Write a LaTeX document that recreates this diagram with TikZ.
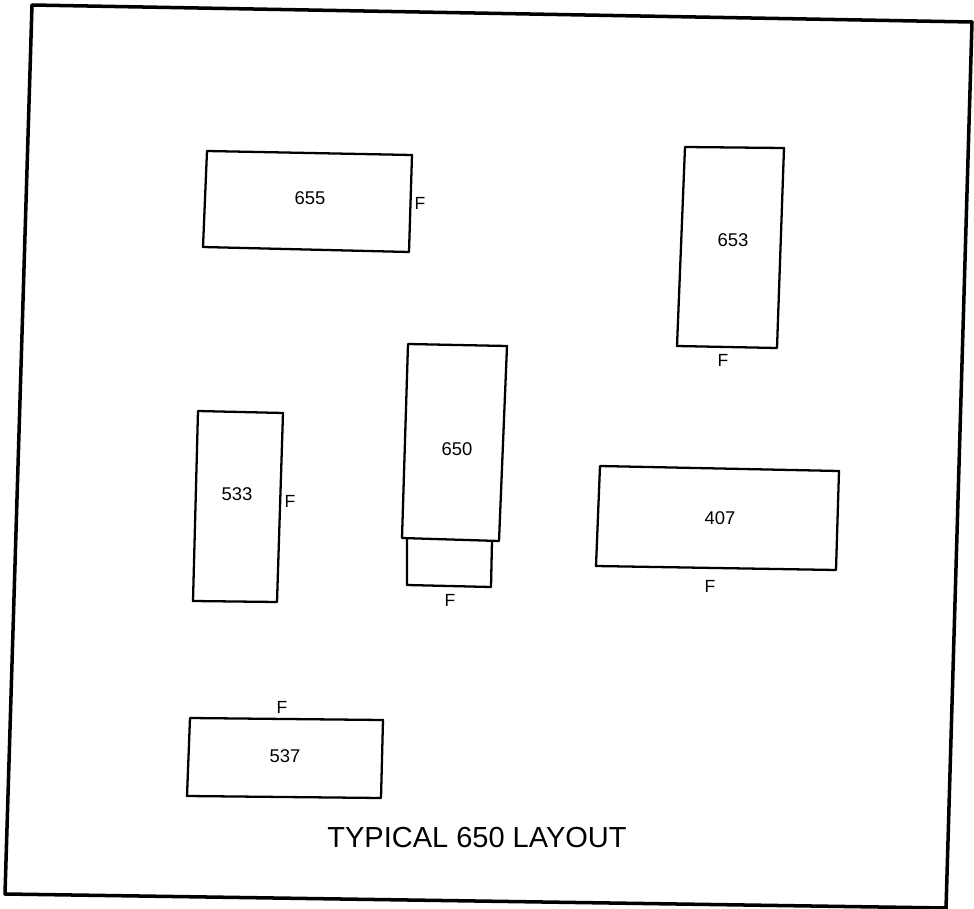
\documentclass[tikz,border=0pt]{standalone}
\usepackage{fontspec}
\setmainfont{Liberation Sans}

\tikzstyle{rahmen}=[line width=2pt, line join=round]
\tikzstyle{geraet}=[line width=1.3pt, line join=round]
\tikzstyle{nummer}=[inner sep=0pt, font=\fontsize{10.5}{12}\selectfont]
\tikzstyle{front}=[inner sep=0pt, font=\fontsize{10}{12}\selectfont]

\begin{document}
\begin{tikzpicture}[x=0.02cm, y=-0.02cm]

	\useasboundingbox (0,0) rectangle (974,909);

	% Rahmen
	\draw[rahmen] (946,909) -- (972,22) -- (32,5) -- (5,894) -- (946,908);

	% Obere Reihe
	\draw[geraet] (207,151) -- (412,155) -- (409,252) -- (203,247) -- cycle;
	\node(m655) at (310,198) [nummer] {655};
	\node(f655) at (420,203) [front] {F};

	\draw[geraet] (685,147) -- (784,148) -- (777,348) -- (677,346) -- cycle;
	\node(m653) at (733,240) [nummer] {653};
	\node(f653) at (723,360) [front] {F};

	% Mitte
	\draw[geraet] (408,344) -- (507,346) -- (499,541) -- (402,538) -- cycle;
	\draw[geraet] (407,539) -- (407,585) -- (491,587) -- (492,541);
	\node(m650) at (457,449) [nummer] {650};
	\node(f650) at (450,600) [front] {F};

	\draw[geraet] (198,411) -- (283,413) -- (277,602) -- (193,601) -- cycle;
	\node(m533) at (237,494) [nummer] {533};
	\node(f533) at (290,501) [front] {F};

	\draw[geraet] (600,466) -- (839,471) -- (836,570) -- (596,566) -- cycle;
	\node(m407) at (720,518) [nummer] {407};
	\node(f407) at (710,586) [front] {F};

	% Untere Reihe
	\draw[geraet] (190,718) -- (383,720) -- (381,798) -- (187,796) -- cycle;
	\node(m537) at (285,756) [nummer] {537};
	\node(f537) at (282,707) [front] {F};

	\node(titel) at (477,838) [inner sep=0pt, font=\fontsize{16.5}{18}\selectfont] {TYPICAL 650 LAYOUT};

\end{tikzpicture}
\end{document}
